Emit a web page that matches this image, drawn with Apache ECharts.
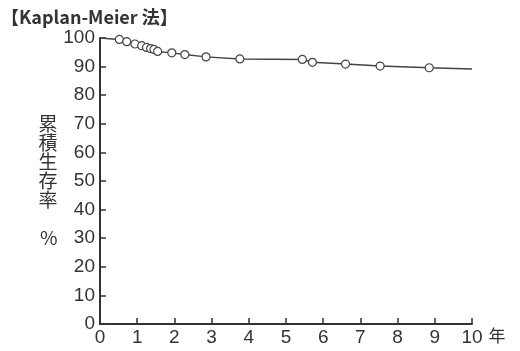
<!DOCTYPE html>
<html>
<head>
<meta charset="utf-8">
<script src="https://cdn.jsdelivr.net/npm/echarts@6/dist/echarts.min.js"></script>
<style>
  html, body { margin: 0; padding: 0; background: #fff; }
  #chart { width: 520px; height: 351px; }
</style>
</head>
<body>
<div id="chart"></div>
<script>
// years since start, cumulative survival (%)
const years    = [0, 0.52, 0.72, 0.94, 1.12, 1.25, 1.36, 1.45, 1.55, 1.93, 2.28, 2.85, 3.76, 5.44, 5.71, 6.6, 7.53, 8.85, 10]
const survival = [100, 99.5, 98.7, 97.9, 97.3, 96.7, 96.3, 96.0, 95.3, 94.8, 94.2, 93.4, 92.7, 92.5, 91.5, 90.9, 90.2, 89.6, 89.2]
// first and last points carry no circle marker
const marked   = [false, true, true, true, true, true, true, true, true, true, true, true, true, true, true, true, true, true, false]

const ink  = '#333'
const font = '"Liberation Sans", Arial, sans-serif'
const cjk  = '"Noto Sans CJK JP", sans-serif'

const chart = echarts.init(document.getElementById('chart'))

chart.setOption({
  backgroundColor: '#fff',
  animation: false,
  title: {
    text: '【Kaplan-Meier 法】',
    left: -4,
    top: 3,
    textStyle: { color: ink, fontSize: 18, fontWeight: 'bold', fontFamily: cjk }
  },
  grid: { left: 100, right: 48, top: 38, bottom: 27 },
  xAxis: {
    type: 'value',
    min: 0,
    max: 10,
    interval: 1,
    name: '年',
    nameGap: 10,
    nameTextStyle: { color: ink, fontSize: 17, fontFamily: cjk, verticalAlign: 'top', padding: [3, 0, 0, 0] },
    axisLine: { lineStyle: { color: ink, width: 2 } },
    axisTick: { inside: true, length: 6, lineStyle: { color: ink, width: 1.5 } },
    axisLabel: { color: ink, fontSize: 19, fontFamily: font, margin: 4 },
    splitLine: { show: false }
  },
  yAxis: {
    type: 'value',
    min: 0,
    max: 100,
    interval: 10,
    name: '累\n積\n生\n存\n率\n\n%',
    nameLocation: 'middle',
    nameRotate: 0,
    nameGap: 32,
    nameTextStyle: { color: ink, fontSize: 19, lineHeight: 19, fontFamily: cjk, padding: [0, 0, 20, 0] },
    axisLine: { show: true, lineStyle: { color: ink, width: 2 } },
    axisTick: { show: true, inside: true, length: 6, lineStyle: { color: ink, width: 1.5 } },
    axisLabel: { color: ink, fontSize: 19, fontFamily: font, margin: 5 },
    splitLine: { show: false }
  },
  series: [{
    type: 'line',
    data: years.map((x, i) => ({
      value: [x, survival[i]],
      symbol: marked[i] ? 'circle' : 'none'
    })),
    symbolSize: 8,
    showAllSymbol: true,
    lineStyle: { color: '#444', width: 1.5 },
    itemStyle: { color: '#fff', borderColor: '#444', borderWidth: 1.2 }
  }]
})
</script>
</body>
</html>
